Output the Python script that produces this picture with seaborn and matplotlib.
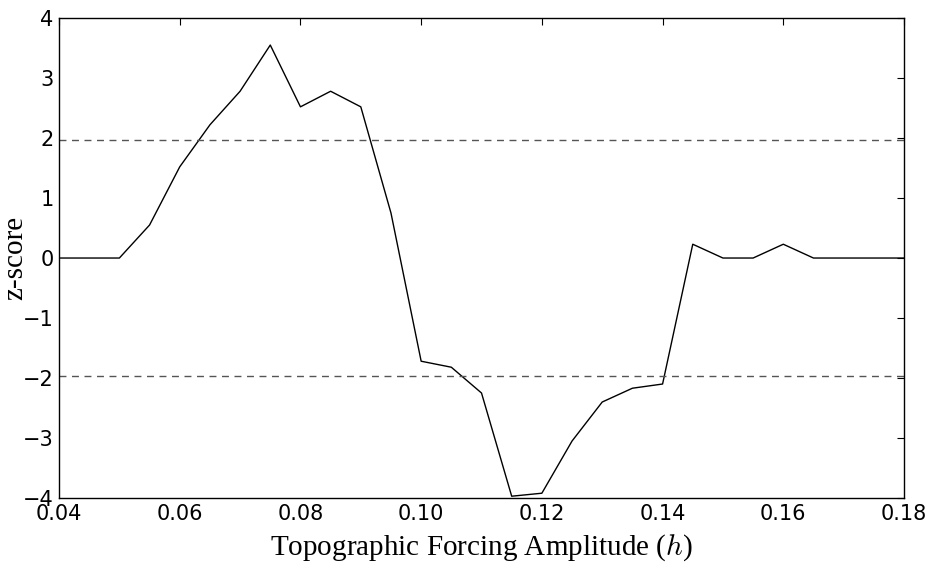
import matplotlib
matplotlib.use("Agg")
import matplotlib.pyplot as plt
import seaborn as sns
import pandas as pd

# datos
amplitud = [0.040, 0.045, 0.050, 0.055, 0.060, 0.065, 0.070, 0.075, 0.080, 0.085,
            0.090, 0.095, 0.100, 0.105, 0.110, 0.115, 0.120, 0.125, 0.130, 0.135,
            0.140, 0.145, 0.150, 0.155, 0.160, 0.165, 0.170, 0.175, 0.180]
zscore = [0.0, 0.0, 0.0, 0.55, 1.52, 2.22, 2.78, 3.55, 2.52, 2.78,
          2.52, 0.75, -1.72, -1.82, -2.25, -3.97, -3.92, -3.05, -2.40, -2.17,
          -2.10, 0.23, 0.0, 0.0, 0.23, 0.0, 0.0, 0.0, 0.0]
umbral = 1.96
xticks = [0.04, 0.06, 0.08, 0.10, 0.12, 0.14, 0.16, 0.18]
yticks = [-4, -3, -2, -1, 0, 1, 2, 3, 4]

sns.set_style("white")
plt.rcParams["font.family"] = ["DejaVu Sans"]
plt.rcParams["mathtext.fontset"] = "cm"
plt.rcParams["xtick.direction"] = "in"
plt.rcParams["ytick.direction"] = "in"
plt.rcParams["text.color"] = "black"
plt.rcParams["axes.labelcolor"] = "black"
plt.rcParams["xtick.color"] = "black"
plt.rcParams["ytick.color"] = "black"

data = pd.DataFrame({"h": amplitud, "z": zscore})

fig = plt.figure(figsize=(9.31, 5.64), dpi=100)
ax = fig.add_axes([0.0634, 0.117, 0.9076, 0.851])
sns.lineplot(data=data, x="h", y="z", color="black", linewidth=1.0, ax=ax)
ax.axhline(umbral, color="#555555", linestyle="--", linewidth=1.0, dashes=(5, 4))
ax.axhline(-umbral, color="#555555", linestyle="--", linewidth=1.0, dashes=(5, 4))

ax.set_xlim(0.04, 0.18)
ax.set_ylim(-4, 4)
ax.set_xticks(xticks)
ax.set_xticklabels([f"{t:.2f}" for t in xticks])
ax.set_yticks(yticks)
ax.set_yticklabels([str(t).replace("-", "\u2212") for t in yticks])
ax.tick_params(axis="both", labelsize=15, length=5, width=0.8, color="black",
               labelcolor="black", top=True, right=True, pad=4)
for s in ax.spines.values():
    s.set_color("black")
    s.set_linewidth(1.0)

ax.set_xlabel(r"Topographic Forcing Amplitude ($h$)", fontsize=21,
              family="Liberation Serif", labelpad=6, color="black")
ax.set_ylabel("z-score", fontsize=21, family="Liberation Serif", color="black")
ax.yaxis.set_label_coords(-0.037, 0.5)

fig.savefig("out.png", dpi=100)
